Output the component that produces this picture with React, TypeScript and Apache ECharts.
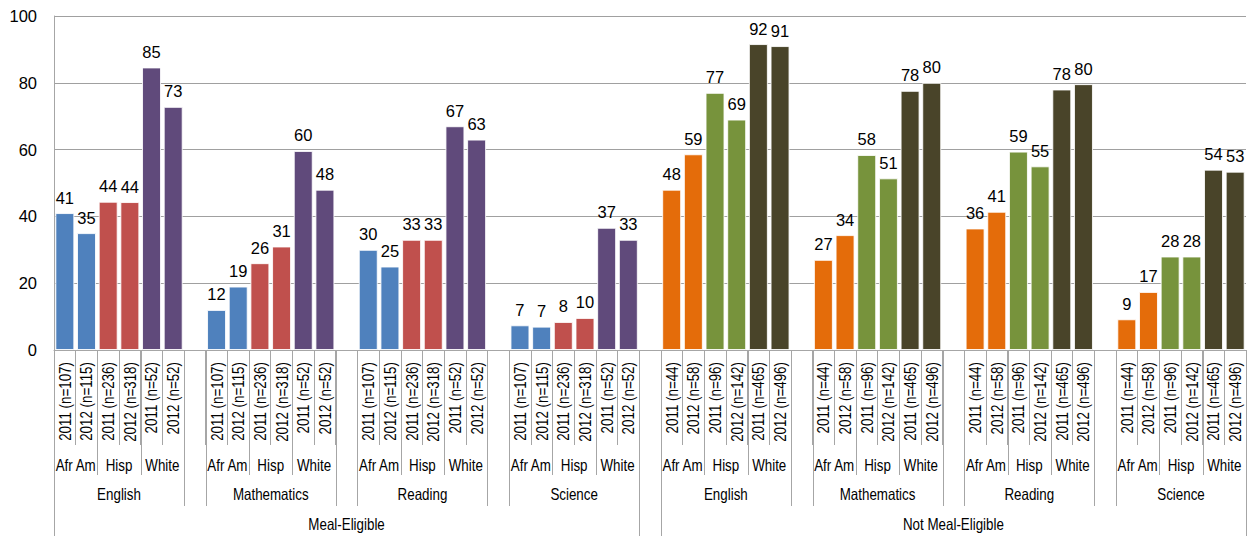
import React, { useEffect, useRef } from 'react';
import * as echarts from 'echarts';

const mealGroups = ['Meal-Eligible', 'Not Meal-Eligible'];
const subjects = ['English', 'Mathematics', 'Reading', 'Science'];
const races = ['Afr Am', 'Hisp', 'White'];

const yearLabelsMeal = ['2011 (n=107)', '2012 (n=115)', '2011 (n=236)', '2012 (n=318)', '2011 (n=52)', '2012 (n=52)'];
const yearLabelsNotMeal = ['2011 (n=44)', '2012 (n=58)', '2011 (n=96)', '2012 (n=142)', '2011 (n=465)', '2012 (n=496)'];

const mealEnglish = [41, 35, 44.4, 44.3, 84.6, 72.8];
const mealMath = [12, 19, 26, 31, 59.6, 48];
const mealReading = [30, 25, 33, 33, 67, 63];
const mealScience = [7.4, 7, 8.4, 9.6, 36.6, 33];

const notMealEnglish = [48, 58.6, 77, 69, 91.6, 91];
const notMealMath = [27, 34.4, 58.4, 51.4, 77.6, 80];
const notMealReading = [36.4, 41.4, 59.4, 55, 78, 79.6];
const notMealScience = [9.2, 17.4, 28, 28, 54, 53.4];

const mealColors = ['#4F81BD', '#C0504D', '#604A7B'];
const notMealColors = ['#E46C0A', '#77933C', '#494429'];

const yearLabels = [yearLabelsMeal, yearLabelsNotMeal];
const values = [
  [mealEnglish, mealMath, mealReading, mealScience],
  [notMealEnglish, notMealMath, notMealReading, notMealScience],
];
const colors = [mealColors, notMealColors];

type Slot = { label: string; value: number | null; color?: string };
type Span = { name: string; start: number; end: number };

const slots: Slot[] = [];
const raceSpans: Span[] = [];
const subjectSpans: Span[] = [];
const mealSpans: Span[] = [];

mealGroups.forEach((g, gi) => {
  const gStart = slots.length;
  subjects.forEach((s, si) => {
    const sStart = slots.length;
    races.forEach((r, ri) => {
      const rStart = slots.length;
      for (let y = 0; y < 2; y++) {
        const k = ri * 2 + y;
        slots.push({ label: yearLabels[gi][k], value: values[gi][si][k], color: colors[gi][ri] });
      }
      raceSpans.push({ name: r, start: rStart, end: slots.length });
    });
    subjectSpans.push({ name: s, start: sStart, end: slots.length });
    if (si < subjects.length - 1) slots.push({ label: '', value: null });
  });
  mealSpans.push({ name: g, start: gStart, end: slots.length });
  if (gi < mealGroups.length - 1) slots.push({ label: '', value: null });
});

const FONT = '"Liberation Sans", Arial, sans-serif';
const LINE = '#a6a6a6';
const SQUEEZE = 0.82;
const CAT_FONT = `16.3px ${FONT}`;

export default function App() {
  const ref = useRef<HTMLDivElement>(null);
  useEffect(() => {
    document.body.style.margin = '0';
    if (!ref.current) return;
    const chart = echarts.init(ref.current, null, { renderer: 'svg' });
    const option: any = {
      animation: false,
      grid: { left: 54, right: 5, top: 16, bottom: 186, containLabel: false, outerBoundsMode: 'none' },
      xAxis: {
        type: 'category',
        data: slots.map((_, i) => 'c' + i),
        axisLine: { show: true, lineStyle: { color: LINE, width: 1 } },
        axisTick: { show: true, interval: 0, length: 95, lineStyle: { color: LINE } },
        axisLabel: { show: false },
        splitLine: { show: false },
      },
      yAxis: {
        type: 'value',
        min: 0,
        max: 100,
        interval: 20,
        axisLine: { show: true, lineStyle: { color: LINE } },
        axisTick: { show: false },
        axisLabel: { fontSize: 16.5, fontFamily: FONT, color: '#000', margin: 17 },
        splitLine: { show: true, lineStyle: { color: '#a0a0a0', width: 1 } },
      },
      series: [
        {
          type: 'bar',
          barWidth: 19,
          data: slots.map((s) =>
            s.value == null
              ? '-'
              : { value: s.value, itemStyle: { color: s.color, borderColor: 'rgba(255,255,255,0.85)', borderWidth: 1 } }
          ),
          label: {
            show: true,
            position: 'top',
            distance: 7,
            fontSize: 16.5,
            fontFamily: FONT,
            color: '#000',
            formatter: (p: any) => String(Math.round(p.value)),
          },
        },
      ],
    };
    chart.setOption(option);

    const c0 = chart.convertToPixel({ xAxisIndex: 0 }, 0) as number;
    const c1 = chart.convertToPixel({ xAxisIndex: 0 }, 1) as number;
    const w = c1 - c0;
    const bx = (i: number) => Math.round(c0 + (i - 0.5) * w) + 0.5;
    const cx = (s: Span) => (c0 + (s.start - 0.5) * w + c0 + (s.end - 0.5) * w) / 2;
    const axisY = chart.convertToPixel({ yAxisIndex: 0 }, 0) as number;

    const elements: any[] = [];
    const vline = (x: number, len: number) =>
      elements.push({
        type: 'line',
        silent: true,
        shape: { x1: x, y1: axisY, x2: x, y2: axisY + len },
        style: { stroke: LINE, lineWidth: 1 },
      });
    const text = (t: string, x: number, y: number) =>
      elements.push({
        type: 'text',
        silent: true,
        x,
        y,
        scaleX: SQUEEZE,
        style: {
          text: t,
          font: CAT_FONT,
          fill: '#000',
          align: 'center',
          verticalAlign: 'middle',
          textAlign: 'center',
          textVerticalAlign: 'middle',
        },
      });

    slots.forEach((s, i) => {
      if (!s.label) return;
      const x = chart.convertToPixel({ xAxisIndex: 0 }, i) as number;
      elements.push({
        type: 'text',
        silent: true,
        x: x + 0.5,
        y: axisY + 12,
        rotation: Math.PI / 2,
        scaleX: SQUEEZE,
        style: {
          text: s.label,
          font: CAT_FONT,
          fill: '#000',
          align: 'right',
          verticalAlign: 'middle',
          textAlign: 'right',
          textVerticalAlign: 'middle',
        },
      });
    });

    raceSpans.forEach((r) => {
      vline(bx(r.start), 125);
      vline(bx(r.end), 125);
      text(r.name, cx(r), axisY + 116);
    });
    subjectSpans.forEach((s) => {
      vline(bx(s.start), 156);
      vline(bx(s.end), 156);
      text(s.name, cx(s), axisY + 145);
    });
    mealSpans.forEach((m) => {
      vline(bx(m.start), 190);
      vline(bx(m.end), 190);
      text(m.name, cx(m), axisY + 175);
    });

    chart.setOption({ graphic: elements });
    return () => chart.dispose();
  }, []);
  return <div ref={ref} style={{ width: 1251, height: 536 }} />;
}
